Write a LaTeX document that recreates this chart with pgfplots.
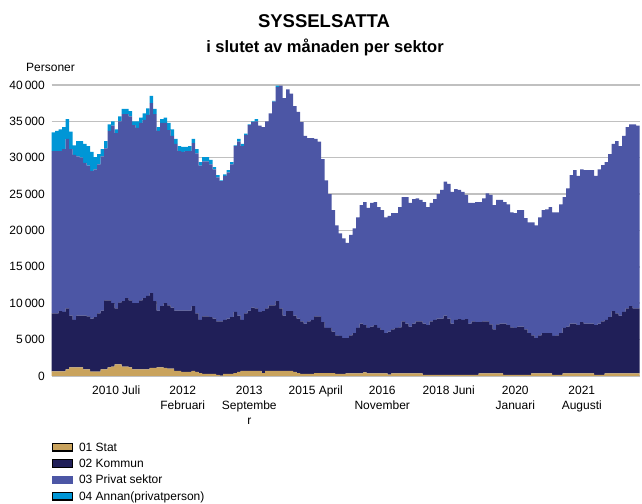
\documentclass[border=0pt]{standalone}
\usepackage{fontspec}
\setmainfont{Liberation Sans}
\usepackage{pgfplots}
\pgfplotsset{compat=1.18}
\usepackage{pgfplotstable}
\definecolor{cstat}{RGB}{201,163,93}
\definecolor{ckom}{RGB}{32,31,88}
\definecolor{cpriv}{RGB}{76,86,165}
\definecolor{cann}{RGB}{0,150,214}
\definecolor{cgrid}{RGB}{192,192,192}
\pgfplotstableread{
x s k p a
0 0.64 7.96 22.3 2.6
1 0.64 7.96 22.3 2.8
2 0.64 8.26 22.0 3.0
3 0.64 8.16 22.4 3.0
4 0.9 8.4 23.3 2.7
5 1.2 7.1 22.9 2.4
6 1.2 6.5 22.7 1.3
7 1.2 7.1 21.9 2.1
8 1.2 7.1 21.7 2.3
9 0.9 7.4 21.0 2.6
10 0.9 7.3 20.7 2.7
11 0.6 7.3 20.3 2.6
12 0.6 7.5 20.3 1.7
13 0.6 8.0 20.5 1.4
14 0.9 8.1 21.2 1.0
15 0.9 9.5 20.9 1.0
16 1.2 9.2 23.3 0.9
17 1.3 8.7 24.4 0.6
18 1.6 7.7 24.1 0.5
19 1.6 8.5 24.9 0.7
20 1.3 9.0 25.7 0.7
21 1.3 9.4 25.3 0.7
22 1.2 9.2 25.3 0.7
23 0.9 9.1 24.5 0.5
24 0.9 9.1 24.1 0.9
25 0.9 9.5 24.4 0.7
26 0.9 9.8 24.5 0.9
27 0.9 10.1 24.9 0.9
28 1.1 10.3 26.1 1.0
29 1.1 9.2 25.7 0.7
30 1.2 7.8 24.7 0.5
31 1.2 8.4 25.2 0.5
32 1.1 8.9 24.8 0.7
33 1.0 8.7 24.1 1.0
34 1.0 8.4 23.6 0.9
35 0.7 8.3 22.9 0.7
36 0.7 8.3 21.9 0.7
37 0.55 8.45 21.8 0.7
38 0.55 8.45 21.9 0.6
39 0.55 8.45 21.9 0.7
40 0.7 8.9 22.4 0.6
41 0.55 8.05 22.0 0.6
42 0.4 7.3 21.2 0.5
43 0.3 7.9 21.3 0.6
44 0.3 7.9 21.3 0.6
45 0.3 7.8 21.0 0.6
46 0.3 7.6 20.5 0.3
47 0.15 7.35 19.8 0.3
48 0.05 7.45 19.3 0.1
49 0.3 7.4 19.8 0.2
50 0.3 7.6 20.1 0.3
51 0.3 7.8 21.0 0.3
52 0.4 8.4 22.8 0.1
53 0.55 7.75 23.9 0.4
54 0.7 7.0 23.9 0.3
55 0.7 7.9 24.5 0.2
56 0.7 8.3 25.5 0.1
57 0.7 8.7 25.5 0.1
58 0.7 8.6 25.7 0.3
59 0.7 8.1 25.6 0
60 0.4 8.5 25.3 0
61 0.7 8.6 25.7 0
62 0.7 9.0 26.4 0
63 0.7 9.0 28.0 0.1
64 0.7 9.6 29.4 0.2
65 0.7 8.6 30.6 0
66 0.7 7.6 29.9 0
67 0.7 8.2 30.5 0
68 0.7 8.2 29.9 0
69 0.55 7.75 28.8 0
70 0.4 7.5 28.4 0
71 0.3 7.2 27.4 0
72 0.3 6.9 25.8 0
73 0.3 7.2 25.2 0
74 0.3 7.4 25.0 0
75 0.4 7.8 24.4 0
76 0.4 7.8 24.0 0
77 0.4 7.0 22.4 0
78 0.4 6.2 20.3 0
79 0.4 6.2 18.4 0
80 0.4 5.7 16.7 0
81 0.3 5.3 15.1 0
82 0.3 5.2 14.1 0
83 0.3 4.9 13.7 0
84 0.35 4.85 13.1 0
85 0.35 5.25 13.8 0
86 0.35 5.55 14.4 0
87 0.35 6.25 15.2 0
88 0.35 6.85 16.3 0
89 0.5 6.5 16.9 0
90 0.35 6.25 16.5 0
91 0.35 6.45 17.0 0
92 0.35 6.65 16.9 0
93 0.35 6.25 16.6 0
94 0.35 5.95 16.5 0
95 0.35 5.55 15.9 0
96 0.2 5.9 15.9 0
97 0.35 6.05 16.0 0
98 0.35 6.25 15.8 0
99 0.35 6.35 16.5 0
100 0.35 7.15 17.1 0
101 0.35 6.85 17.4 0
102 0.35 6.45 17.0 0
103 0.35 6.85 17.1 0
104 0.35 7.15 16.9 0
105 0.35 7.15 16.7 0
106 0.15 7.05 16.7 0
107 0.15 6.85 16.2 0
108 0.15 7.35 16.3 0
109 0.15 7.55 16.6 0
110 0.15 7.75 17.1 0
111 0.15 7.75 17.7 0
112 0.15 8.15 18.4 0
113 0.15 7.75 18.5 0
114 0.15 7.05 18.1 0
115 0.15 7.55 18.0 0
116 0.15 7.65 17.8 0
117 0.15 7.55 17.6 0
118 0.15 7.65 17.1 0
119 0.15 7.05 16.6 0
120 0.15 7.35 16.3 0
121 0.15 7.25 16.5 0
122 0.35 7.05 16.5 0
123 0.35 7.15 16.9 0
124 0.35 7.15 17.6 0
125 0.35 6.75 17.8 0
126 0.35 6.05 17.1 0
127 0.35 6.75 17.1 0
128 0.35 6.85 17.0 0
129 0.15 7.05 16.7 0
130 0.15 6.85 16.6 0
131 0.15 6.55 15.8 0
132 0.15 6.45 15.8 0
133 0.15 6.65 16.0 0
134 0.15 6.65 16.0 0
135 0.15 6.25 15.3 0
136 0.15 5.75 15.2 0
137 0.35 5.25 15.5 0
138 0.35 4.85 15.5 0
139 0.35 5.25 16.2 0
140 0.35 5.55 16.9 0
141 0.35 5.55 17.0 0
142 0.35 5.55 17.3 0
143 0.15 5.35 17.0 0
144 0.15 5.45 16.9 0
145 0.15 5.75 17.7 0
146 0.35 6.25 18.0 0
147 0.35 6.45 19.0 0
148 0.35 6.85 20.4 0
149 0.35 6.85 21.1 0
150 0.35 6.65 20.5 0
151 0.35 7.05 21.0 0
152 0.35 6.85 21.1 0
153 0.35 6.85 21.1 0
154 0.35 6.85 21.1 0
155 0.15 6.85 20.5 0
156 0.15 7.05 21.2 0
157 0.15 7.35 21.5 0
158 0.35 7.35 21.7 0
159 0.35 7.75 22.4 0
160 0.35 8.55 23.0 0
161 0.35 8.25 23.7 0
162 0.35 7.95 23.3 0
163 0.35 8.45 24.2 0
164 0.35 8.95 24.9 0
165 0.35 9.25 25.0 0
166 0.35 8.95 25.3 0
167 0.35 8.95 25.1 0
}\data
\begin{document}
\begin{tikzpicture}[x=1bp,y=1bp]
\useasboundingbox (0,0) rectangle (642,504);
\begin{axis}[
  at={(51.5bp,128bp)}, anchor=south west,
  scale only axis, width=588bp, height=291bp,
  ybar stacked, bar width=1,
  xmin=-0.5, xmax=167.5, ymin=0, ymax=40,
  ytick={0,5,...,40},
  yticklabels={0,5\,000,10\,000,15\,000,20\,000,25\,000,30\,000,35\,000,40\,000},
  ymajorgrids, grid style={draw=cgrid, line width=1.5bp},
  axis line style={draw=none}, major tick length=0pt, tick style={draw=none},
  xtick={18,37,56,75,94,113,132,151},
  xticklabels={{2010 Juli},{2012\\Februari},{2013\\Septembe\\r},{2015 April},{2016\\November},{2018 Juni},{2020\\Januari},{2021\\Augusti}},
  xticklabel style={align=center, inner sep=0pt, yshift=-9.5bp, font=\fontsize{12bp}{15bp}\selectfont},
  yticklabel style={inner sep=0pt, xshift=-6.5bp, font=\fontsize{12bp}{15bp}\selectfont},
  legend style={at={(axis description cs:0,0)}, anchor=north west, yshift=-65bp,
    draw=none, fill=none, inner sep=0pt, row sep=3.3bp,
    font=\fontsize{12bp}{14bp}\selectfont,
    nodes={inner sep=1.5bp},
    /tikz/every odd column/.append style={column sep=4.5bp}},
  legend cell align=left,
]
\addplot[fill=cstat, draw=none, legend image code/.code={\draw[fill=cstat, draw=black, line width=1.3bp] (0bp,-3.5bp) rectangle (20bp,4bp);}] table[x=x,y=s]{\data};
\addlegendentry{01 Stat}
\addplot[fill=ckom, draw=none, legend image code/.code={\draw[fill=ckom, draw=black, line width=1.3bp] (0bp,-3.5bp) rectangle (20bp,4bp);}] table[x=x,y=k]{\data};
\addlegendentry{02 Kommun}
\addplot[fill=cpriv, draw=none, legend image code/.code={\fill[cpriv] (-0.6bp,-4bp) rectangle (20.6bp,4.6bp);}] table[x=x,y=p]{\data};
\addlegendentry{03 Privat sektor}
\addplot[fill=cann, draw=none, legend image code/.code={\draw[fill=cann, draw=black, line width=1.3bp] (0bp,-3.5bp) rectangle (20bp,4bp);}] table[x=x,y=a]{\data};
\addlegendentry{04 Annan(privatperson)}
\end{axis}
\node[anchor=base, font=\bfseries\fontsize{18.5bp}{20bp}\selectfont, inner sep=0pt] at (324,476.7) {SYSSELSATTA};
\node[anchor=base, font=\bfseries\fontsize{16.5bp}{18bp}\selectfont, inner sep=0pt] at (325,451.3) {i slutet av månaden per sektor};
\node[anchor=base west, font=\fontsize{12bp}{14bp}\selectfont, inner sep=0pt] at (26,432.3) {Personer};
\end{tikzpicture}
\end{document}
